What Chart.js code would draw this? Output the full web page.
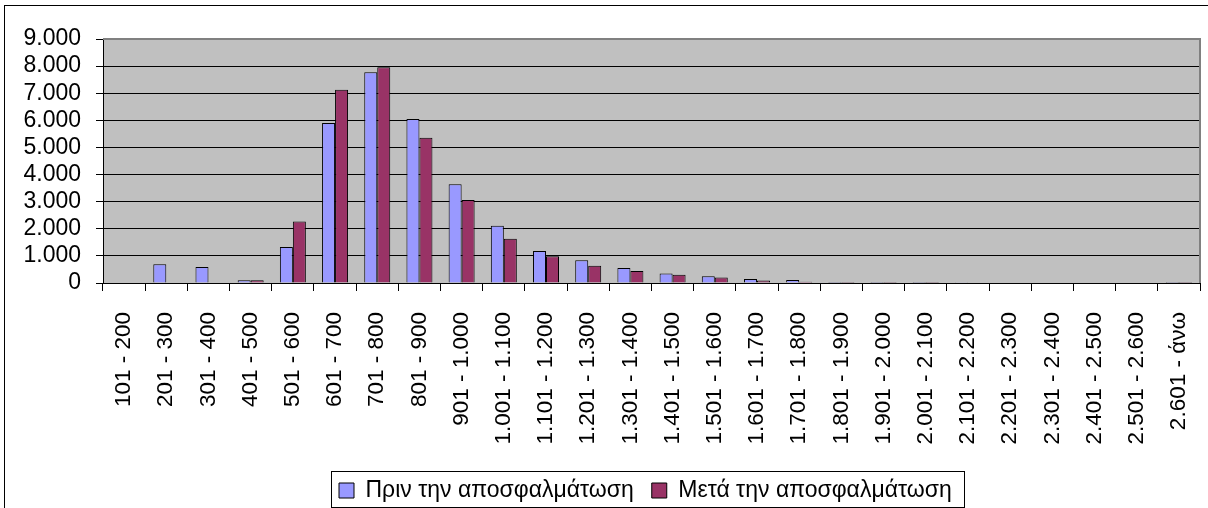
<!DOCTYPE html>
<html>
<head>
<meta charset="utf-8">
<script src="https://cdn.jsdelivr.net/npm/chart.js@4.4.0/dist/chart.umd.min.js"></script>
<style>
    html, body { margin: 0; padding: 0; overflow: hidden; background: #fff; }
    #wrap { width: 1208px; height: 540px; }
</style>
</head>
<body>
<div id="wrap"><canvas id="histChart" width="1208" height="540"></canvas></div>
<script>
// categories (x axis)
const categories = [
    '101 - 200', '201 - 300', '301 - 400', '401 - 500', '501 - 600', '601 - 700',
    '701 - 800', '801 - 900', '901 - 1.000', '1.001 - 1.100', '1.101 - 1.200',
    '1.201 - 1.300', '1.301 - 1.400', '1.401 - 1.500', '1.501 - 1.600', '1.601 - 1.700',
    '1.701 - 1.800', '1.801 - 1.900', '1.901 - 2.000', '2.001 - 2.100', '2.101 - 2.200',
    '2.201 - 2.300', '2.301 - 2.400', '2.401 - 2.500', '2.501 - 2.600', '2.601 - άνω'
];

// series values
const beforeValues = [0, 690, 590, 100, 1330, 5900, 7770, 6050, 3640, 2110, 1180, 840, 555,
    350, 250, 150, 110, 40, 40, 40, 30, 0, 0, 0, 0, 40];
const afterValues = [0, 0, 0, 100, 2270, 7130, 7960, 5360, 3060, 1630, 990, 640, 440,
    300, 200, 90, 50, 40, 40, 40, 0, 0, 0, 0, 0, 40];

const seriesNames = ['Πριν την αποσφαλμάτωση', 'Μετά την αποσφαλμάτωση'];

// y tick labels
const yTickValues = [0, 1000, 2000, 3000, 4000, 5000, 6000, 7000, 8000, 9000];
const yTickLabels = ['0', '1.000', '2.000', '3.000', '4.000', '5.000', '6.000', '7.000', '8.000', '9.000'];

const FONT = '"Liberation Sans", Arial, sans-serif';
const PLOT_BOTTOM = 283;
const PAD_BOTTOM = 10;
const LEGEND_FONT = 23;
const LEGEND_PAD = 18;

const framePlugin = {
    id: 'frame',
    afterLayout(chart) {
        // move the legend to where it sits in the original
        const lg = chart.legend;
        if (!lg || !lg.lineWidths) return;
        const x0 = (lg.left + LEGEND_PAD + lg.right - lg.lineWidths[0]) / 2;
        const dx = 339 - x0;
        const dy = 490.5 - (lg.top + LEGEND_PAD + LEGEND_FONT / 2);
        lg.left += dx;
        lg.right += dx;
        lg.top += dy;
        lg.bottom += dy;
    },
    beforeDraw(chart) {
        const { ctx, chartArea: a } = chart;
        ctx.save();
        ctx.fillStyle = '#ffffff';
        ctx.fillRect(0, 0, chart.width, chart.height);
        ctx.fillStyle = '#c0c0c0';
        ctx.fillRect(a.left, a.top, a.right - a.left, a.bottom - a.top);
        ctx.restore();
    },
    beforeDatasetsDraw(chart) {
        const { ctx, chartArea: a } = chart;
        ctx.save();
        ctx.strokeStyle = '#808080';
        ctx.lineWidth = 2;
        ctx.beginPath();
        ctx.moveTo(a.left, a.top);
        ctx.lineTo(a.right, a.top);
        ctx.lineTo(a.right, a.bottom);
        ctx.stroke();
        ctx.restore();
    },
    afterDraw(chart) {
        const ctx = chart.ctx;
        ctx.save();
        ctx.strokeStyle = '#000';
        ctx.lineWidth = 1;
        ctx.strokeRect(4.5, 5.5, chart.width + 20, chart.height + 20);
        const boxes = chart.legend.legendHitBoxes;
        if (boxes && boxes.length) {
            const first = boxes[0];
            const last = boxes[boxes.length - 1];
            const left = Math.round(first.left - 8) + 0.5;
            const right = Math.round(last.left + last.width + 12) + 0.5;
            const top = Math.round(first.top + LEGEND_FONT / 2 - 20) + 0.5;
            ctx.strokeRect(left, top, right - left, 36);
        }
        ctx.restore();
    }
};

const ctx = document.getElementById('histChart').getContext('2d');
new Chart(ctx, {
    type: 'bar',
    data: {
        labels: categories,
        datasets: [{
            label: seriesNames[0],
            data: beforeValues,
            backgroundColor: '#9999ff',
            borderColor: '#000000',
            borderWidth: 1,
            barPercentage: 1,
            categoryPercentage: 0.616
        }, {
            label: seriesNames[1],
            data: afterValues,
            backgroundColor: '#993366',
            borderColor: '#000000',
            borderWidth: 1,
            barPercentage: 1,
            categoryPercentage: 0.616
        }]
    },
    options: {
        responsive: false,
        animation: false,
        devicePixelRatio: 1,
        layout: {
            padding: { top: 39, left: 0, right: 8, bottom: PAD_BOTTOM }
        },
        plugins: {
            legend: {
                position: 'bottom',
                labels: {
                    color: '#000',
                    boxWidth: 15,
                    boxHeight: 15,
                    padding: LEGEND_PAD,
                    font: { family: FONT, size: LEGEND_FONT }
                }
            },
            tooltip: { enabled: false }
        },
        scales: {
            x: {
                offset: true,
                grid: {
                    display: true,
                    drawOnChartArea: false,
                    offset: true,
                    tickLength: 8,
                    color: '#000'
                },
                border: { color: '#000', width: 1 },
                ticks: {
                    color: '#000',
                    autoSkip: false,
                    minRotation: 90,
                    maxRotation: 90,
                    padding: 21,
                    font: { family: FONT, size: 22.5 }
                },
                afterFit(scale) {
                    scale.paddingLeft = 0;
                    scale.paddingRight = 0;
                    scale.height = scale.chart.height - PAD_BOTTOM - scale.chart.legend.height - PLOT_BOTTOM;
                }
            },
            y: {
                min: 0,
                max: 9000,
                afterBuildTicks(scale) {
                    scale.ticks = yTickValues.map(v => ({ value: v }));
                },
                grid: {
                    color: '#000',
                    tickLength: 7
                },
                border: { color: '#000', width: 1 },
                ticks: {
                    color: '#000',
                    autoSkip: false,
                    padding: 15,
                    font: { family: FONT, size: 23 },
                    callback: (value) => yTickLabels[yTickValues.indexOf(value)]
                },
                afterFit(scale) {
                    scale.width = 103;
                }
            }
        }
    },
    plugins: [framePlugin]
});
</script>
</body>
</html>
